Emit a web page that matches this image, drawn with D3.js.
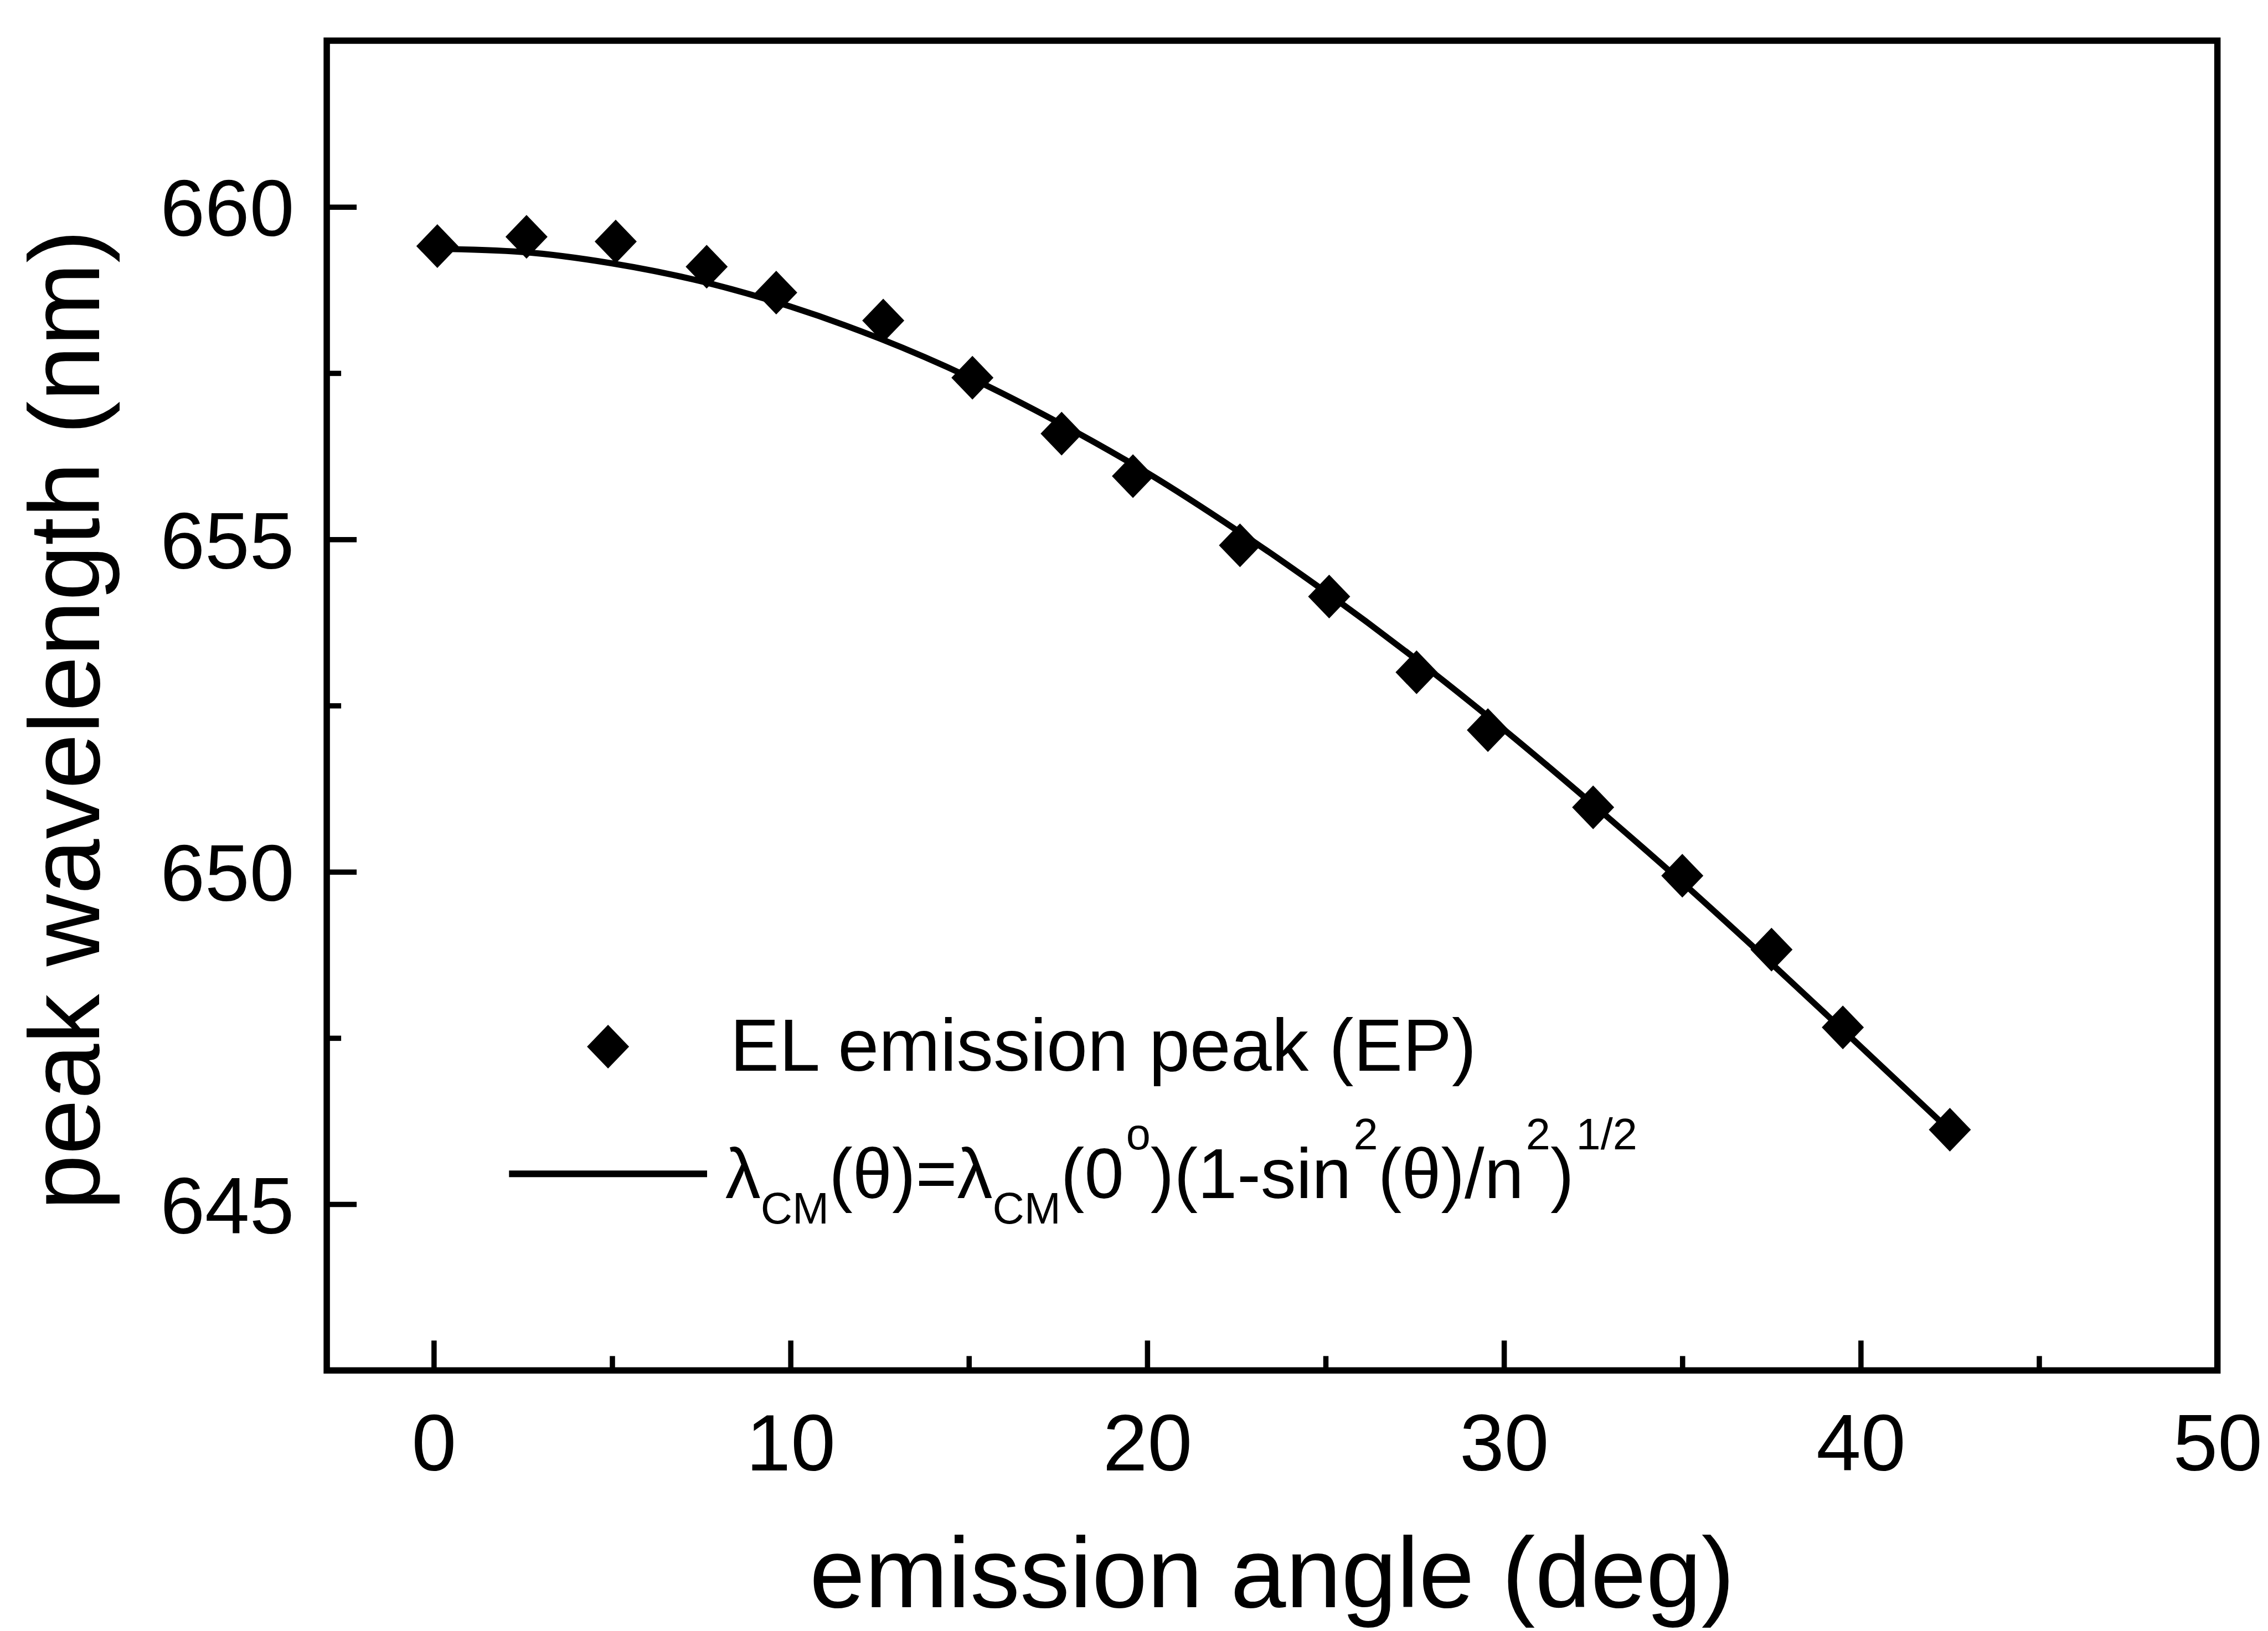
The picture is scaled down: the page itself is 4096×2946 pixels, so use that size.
<!DOCTYPE html>
<html>
<head>
<meta charset="utf-8">
<script src="https://cdn.jsdelivr.net/npm/d3@7/dist/d3.min.js"></script>
<style>
  html, body { margin: 0; padding: 0; background: #fff; }
  svg { display: block; }
  text { font-family: "Liberation Sans", Arial, Helvetica, sans-serif; fill: #000; }
</style>
</head>
<body>
<svg id="chart" width="4096" height="2946"></svg>
<script>
// Measured EL emission peaks versus emission angle
const angles = [0.1, 2.6, 5.1, 7.65, 9.6, 12.6, 15.1, 17.6, 19.6, 22.6, 25.1, 27.55, 29.55, 32.5, 35.0, 37.5, 39.5, 42.5];
const peaks  = [659.41, 659.55, 659.48, 659.10, 658.71, 658.29, 657.43, 656.59, 655.95, 654.91, 654.14, 653.00, 652.13, 650.97, 649.94, 648.83, 647.66, 646.12];

// Cavity-mode fit curve, sampled along the drawn line
const fitAngles = [0, 2.5, 5, 7.5, 10, 12.5, 15, 17.5, 20, 22.5, 25, 27.5, 30, 32.5, 35, 37.5, 40, 42.5];
const fitValues = [659.37, 659.32, 659.15, 658.88, 658.50, 658.02, 657.44, 656.76, 656.00, 655.14, 654.21, 653.21, 652.14, 651.01, 649.84, 648.62, 647.37, 646.11];

// Axis ticks
const xMajorTicks = [0, 10, 20, 30, 40, 50];
const xMinorTicks = [5, 15, 25, 35, 45];
const yMajorTicks = [645, 650, 655, 660];
const yMinorTicks = [647.5, 652.5, 657.5];

const xLabel = "emission angle (deg)";
const yLabel = "peak wavelength (nm)";
const legendPoints = "EL emission peak (EP)";

const k = 0.864;
const svg = d3.select("#chart");
svg.append("rect").attr("width", 4096).attr("height", 2946).attr("fill", "#fff");

const plot = { left: 683 * k, right: 4635 * k, top: 85 * k, bottom: 2865 * k };

const x = d3.scaleLinear().domain([-3, 50]).range([plot.left, plot.right]);
const y = d3.scaleLinear().domain([642.5, 662.5]).range([plot.bottom, plot.top]);

const axisW = 11.5;
const tickW = 9.5;
const majorLen = 54;
const minorLen = 26;
const tickFont = 145;

// Bottom axis: major ticks with labels, pointing inward
const gx = svg.append("g").attr("transform", `translate(0,${plot.bottom})`)
  .call(d3.axisBottom(x).tickValues(xMajorTicks).tickSize(-majorLen).tickFormat(d3.format("d")));
gx.select(".domain").remove();
gx.selectAll(".tick line").attr("stroke", "#000").attr("stroke-width", tickW);
gx.selectAll(".tick text")
  .attr("y", 181).attr("dy", null)
  .attr("font-size", tickFont)
  .attr("font-family", "Liberation Sans, Arial, sans-serif")
  .attr("fill", "#000");

const gxm = svg.append("g").attr("transform", `translate(0,${plot.bottom})`)
  .call(d3.axisBottom(x).tickValues(xMinorTicks).tickSize(-minorLen).tickFormat(""));
gxm.select(".domain").remove();
gxm.selectAll(".tick line").attr("stroke", "#000").attr("stroke-width", tickW);

// Left axis
const gy = svg.append("g").attr("transform", `translate(${plot.left},0)`)
  .call(d3.axisLeft(y).tickValues(yMajorTicks).tickSize(-majorLen).tickFormat(d3.format("d")));
gy.select(".domain").remove();
gy.selectAll(".tick line").attr("stroke", "#000").attr("stroke-width", tickW);
gy.selectAll(".tick text")
  .attr("x", -(683 - 615) * k).attr("dy", "0.36em")
  .attr("font-size", tickFont)
  .attr("font-family", "Liberation Sans, Arial, sans-serif")
  .attr("fill", "#000");

const gym = svg.append("g").attr("transform", `translate(${plot.left},0)`)
  .call(d3.axisLeft(y).tickValues(yMinorTicks).tickSize(-minorLen).tickFormat(""));
gym.select(".domain").remove();
gym.selectAll(".tick line").attr("stroke", "#000").attr("stroke-width", tickW);

// Frame
svg.append("rect")
  .attr("x", plot.left).attr("y", plot.top)
  .attr("width", plot.right - plot.left).attr("height", plot.bottom - plot.top)
  .attr("fill", "none").attr("stroke", "#000").attr("stroke-width", axisW);

// Fit curve
const line = d3.line().x((d, i) => x(fitAngles[i])).y(d => y(d)).curve(d3.curveMonotoneX);
svg.append("path").datum(fitValues)
  .attr("d", line)
  .attr("fill", "none").attr("stroke", "#000").attr("stroke-width", 11)
  .attr("stroke-linejoin", "round");

// Diamond markers
const hw = 38, hh = 39.5;
const diamond = `M0,${-hh}L${hw},0L0,${hh}L${-hw},0Z`;
svg.append("g").selectAll("path").data(peaks).join("path")
  .attr("d", diamond)
  .attr("transform", (d, i) => `translate(${x(angles[i])},${y(d)})`)
  .attr("fill", "#000");

// Legend
const lg = svg.append("g");
lg.append("path").attr("d", diamond)
  .attr("transform", `translate(${1271 * k},${2188 * k})`).attr("fill", "#000");
lg.append("text").attr("x", 1526 * k).attr("y", 2239 * k)
  .attr("font-size", 133).text(legendPoints);
lg.append("line")
  .attr("x1", 1064 * k).attr("x2", 1478 * k)
  .attr("y1", 2454 * k).attr("y2", 2454 * k)
  .attr("stroke", "#000").attr("stroke-width", 12);

const fs = 128, sub = 0.62 * fs, sup = 0.62 * fs;
const ft = lg.append("text").attr("x", 1516 * k).attr("y", 2505 * k).attr("font-size", fs);
const parts = [
  ["λ", "n"], ["CM", "sub"], ["(θ)=λ", "n"], ["CM", "sub"], ["(0", "n"], ["o", "sup"],
  [")(1-sin", "n"], ["2", "sup"], ["(θ)/n", "n"], ["2", "sup"], [")", "n"], ["1/2", "sup"]
];
let level = 0;
parts.forEach(([t, kind]) => {
  const target = kind === "sub" ? 46 : kind === "sup" ? -88 : 0;
  const ts = ft.append("tspan")
    .attr("dy", target - level)
    .attr("font-size", kind === "sub" ? sub : kind === "sup" ? sup : fs)
    .text(t);
  if (kind === "sup") ts.attr("dx", 4);
  level = target;
});

// Axis titles
svg.append("text")
  .attr("x", (plot.left + plot.right) / 2).attr("y", 3360 * k)
  .attr("text-anchor", "middle").attr("font-size", 180).text(xLabel);
svg.append("text")
  .attr("transform", `translate(${207 * k},${1505 * k}) rotate(-90)`)
  .attr("text-anchor", "middle").attr("font-size", 180).text(yLabel);
</script>
</body>
</html>
